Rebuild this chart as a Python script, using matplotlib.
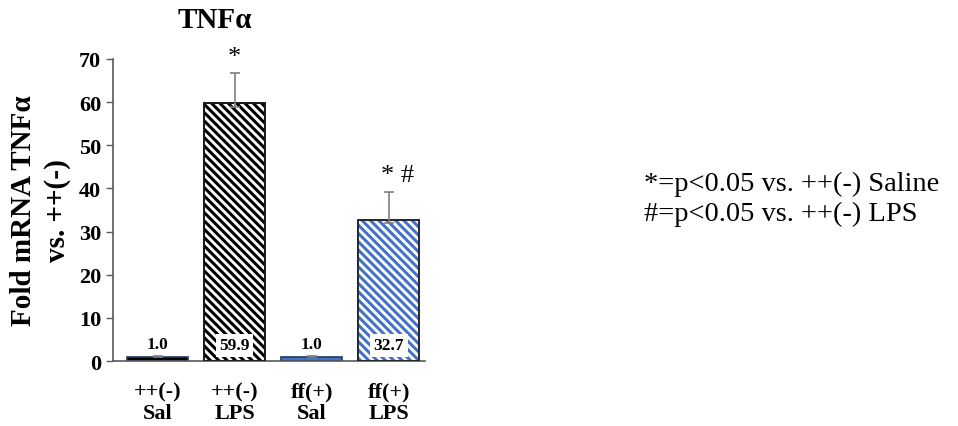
import matplotlib.pyplot as plt
import numpy as np

# Data
groups = ["++(-)\nSal", "++(-)\nLPS", "ff(+)\nSal", "ff(+)\nLPS"]
means = [1.0, 59.9, 1.0, 32.7]
err_low = [0.0, 1.0, 0.0, 0.8]
err_high = [0.1, 6.8, 0.1, 6.5]
value_labels = ["1.0", "59.9", "1.0", "32.7"]
sig_marks = ["", "*", "", "* #"]
legend_lines = ["*=p<0.05 vs. ++(-) Saline", "#=p<0.05 vs. ++(-) LPS"]

blue = "#4472C4"
face_colors = ["black", "white", blue, "white"]
hatch_colors = ["black", "black", blue, blue]
hatches = [None, "\\\\\\\\", None, "\\\\\\\\"]

plt.rcParams["font.family"] = ["Liberation Serif", "DejaVu Serif"]
plt.rcParams["hatch.linewidth"] = 2.2

fig = plt.figure(figsize=(9.58, 4.27), dpi=100)
# axes in pixel coords: left 113, right 425, bottom y=362, top y=60
W, H = 958, 427
ax = fig.add_axes([113 / W, 1 - 362 / H, (425 - 113) / W, (362 - 60) / H])

x = np.arange(len(means))
for i in range(len(means)):
    ax.bar(x[i], means[i], width=0.79, color=face_colors[i],
           edgecolor=hatch_colors[i] if hatches[i] else "#203864",
           hatch=hatches[i], linewidth=1.2, zorder=2)
    # redraw the edge in dark so hatched bars keep a black outline
    if hatches[i]:
        ax.bar(x[i], means[i], width=0.79, color="none",
               edgecolor="#1a1a1a", linewidth=1.2, zorder=3)

ax.errorbar(x, means, yerr=[err_low, err_high], fmt="none", ecolor="#7f7f7f",
            elinewidth=1.2, capsize=3.5, capthick=1.2, zorder=4)

for i in range(len(means)):
    if means[i] > 10:
        ax.text(x[i], 3.7, value_labels[i], ha="center", va="center",
                fontsize=12.5, fontweight="bold", zorder=5,
                bbox=dict(facecolor="white", edgecolor="none", pad=2.5))
    else:
        ax.text(x[i], means[i] + 1.2, value_labels[i], ha="center", va="bottom",
                fontsize=12.5, fontweight="bold", zorder=5)
    if sig_marks[i]:
        ax.text(x[i] + (0.12 if "#" in sig_marks[i] else 0),
                means[i] + err_high[i] + 1.3, sig_marks[i],
                ha="center", va="bottom", fontsize=19)

ax.set_xlim(-0.58, 3.47)
ax.set_ylim(0, 70)
ax.set_yticks(range(0, 71, 10))
ax.set_xticks(x)
ax.set_xticklabels(groups, fontsize=16, fontweight="bold", linespacing=1.1)
ax.tick_params(axis="x", length=0, pad=15)
ax.tick_params(axis="y", length=5, width=1, color="#595959", labelsize=16)
for lab in ax.get_yticklabels():
    lab.set_fontweight("bold")
for s in ["top", "right"]:
    ax.spines[s].set_visible(False)
for s in ["left", "bottom"]:
    ax.spines[s].set_color("#595959")
    ax.spines[s].set_linewidth(1.2)

ax.set_ylabel("Fold mRNA TNFα\nvs. ++(-)", fontsize=21, fontweight="bold",
              linespacing=1.3, labelpad=6)

fig.text(215 / W, 1 - 20 / H, "TNFα", ha="center", va="center",
         fontsize=21, fontweight="bold")

fig.text(644 / W, 1 - 184 / H, legend_lines[0], ha="left", va="center", fontsize=20.5)
fig.text(644 / W, 1 - 214 / H, legend_lines[1], ha="left", va="center", fontsize=20.5)

fig.savefig("out.png", dpi=100)
